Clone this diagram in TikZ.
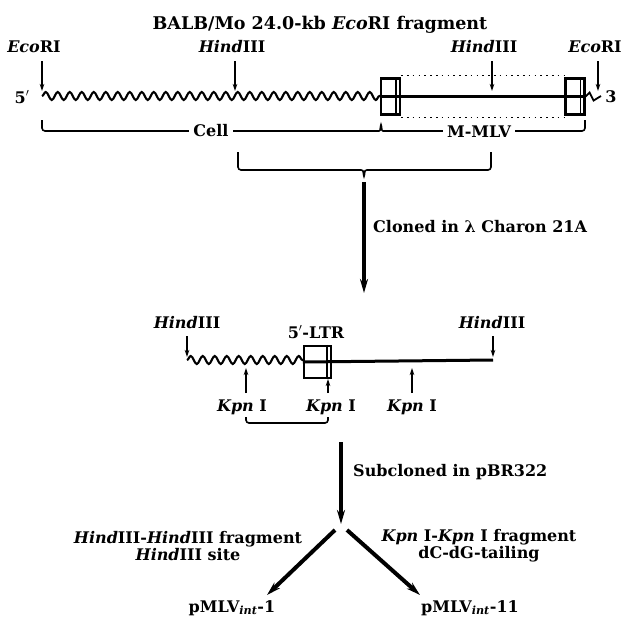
\documentclass[tikz,border=0pt]{standalone}
\usepackage{fontspec}
\setmainfont{DejaVu Serif}
\usetikzlibrary{arrows.meta,decorations.pathmorphing}
\begin{document}
\begin{tikzpicture}[x=1pt,y=-1pt,
  lbl/.style={font=\bfseries\fontsize{16}{16}\selectfont, inner sep=0pt},
  site/.style={line width=1.7pt, -{Stealth[length=7pt,width=4.5pt]}},
  proc/.style={line width=4pt, -{Stealth[length=14pt,width=8pt]}},
  wave/.style={line width=2.1pt, decorate, decoration={snake, amplitude=4pt, segment length=12pt}},
  dna/.style={line width=3pt},
  ltrbox/.style={draw, line width=2.2pt, inner sep=0pt},
  dots/.style={line width=1.6pt, dash pattern=on 1.6pt off 4.2pt},
  brk/.style={line width=1.6pt, rounded corners=3pt},
  gap/.style={fill=white, inner xsep=4pt, inner ysep=1pt},
]
\useasboundingbox (0,0) rectangle (631,621);

% ---------- top map ----------
\node[lbl, font=\bfseries\fontsize{17.5}{18}\selectfont] (title) at (320,25) {BALB/Mo 24.0-kb \textit{Eco}RI fragment};
\node[lbl] (ecoL) at (34,47) {\textit{Eco}RI};
\node[lbl] (hindL) at (232,47) {\textit{Hind}III};
\node[lbl] (hindR) at (484,47) {\textit{Hind}III};
\node[lbl] (ecoR) at (595,47) {\textit{Eco}RI};
\node[lbl] (five) at (22,97) {5$'$};
\node[lbl] (three) at (611,97) {3};

\coordinate (ecoLt) at (42,61);  \coordinate (ecoLh) at (42,91);
\coordinate (hindLt) at (235,61); \coordinate (hindLh) at (235,91);
\coordinate (hindRt) at (492,61); \coordinate (hindRh) at (492,91);
\coordinate (ecoRt) at (598,61); \coordinate (ecoRh) at (598,91);
\draw[site] (ecoLt) -- (ecoLh);
\draw[site] (hindLt) -- (hindLh);
\draw[site] (hindRt) -- (hindRh);
\draw[site] (ecoRt) -- (ecoRh);

\coordinate (w1a) at (42,96); \coordinate (w1b) at (381,96);
\draw[wave] (w1a) -- (w1b);
\node[ltrbox, minimum width=19pt, minimum height=36pt] (ltr1) at (390.5,96.5) {};
\node[ltrbox, minimum width=19pt, minimum height=36pt] (ltr2) at (575,96.5) {};
\draw[line width=1.6pt] ([xshift=-5pt]ltr1.north east) -- ([xshift=-5pt]ltr1.south east);
\draw[line width=1.6pt] ([xshift=-5pt]ltr2.north east) -- ([xshift=-5pt]ltr2.south east);
\draw[dna] (ltr1.west) -- (ltr2.east);
\draw[dots] ([yshift=2pt]ltr1.north east) -- ([yshift=2pt]ltr2.north west);
\draw[dots] ([yshift=-2pt]ltr1.south east) -- ([yshift=-2pt]ltr2.south west);
\coordinate (w2b) at (601,96);
\draw[line width=1.8pt] (ltr2.east) -- ++(4,-4) -- ++(4,8) -- (w2b);

% brackets
\draw[brk] (42,120) -- (42,131) -- (376,131) .. controls (380,131) .. (381,123)
  .. controls (382,131) .. (386,131) -- (585,131) -- (585,120);
\node[lbl, gap] (cell) at (211,131) {Cell};
\node[lbl, gap] (mmlv) at (479,132) {M-MLV};
\draw[brk] (238,152) -- (238,170) -- (358,170) .. controls (363,170) .. (364,178)
  .. controls (365,170) .. (370,170) -- (491,170) -- (491,152);
\coordinate (a1s) at (364,182); \coordinate (a1e) at (364,293);
\draw[proc] (a1s) -- (a1e);
\node[lbl, anchor=west] (cloned) at (373,227) {Cloned in λ Charon 21A};

% ---------- middle map ----------
\node[lbl] (hind2L) at (187,323) {\textit{Hind}III};
\node[lbl] (hind2R) at (492,323) {\textit{Hind}III};
\node[lbl] (ltrlbl) at (316,332) {5$'$-LTR};
\coordinate (h2Lt) at (187,336); \coordinate (h2Lh) at (187,357);
\coordinate (h2Rt) at (493,336); \coordinate (h2Rh) at (493,357);
\draw[site] (h2Lt) -- (h2Lh);
\draw[site] (h2Rt) -- (h2Rh);
\coordinate (w3a) at (187,360); \coordinate (w3b) at (304,360);
\draw[wave] (w3a) -- (w3b);
\node[ltrbox, minimum width=27pt, minimum height=32pt] (ltr3) at (317.5,362) {};
\draw[line width=1.6pt] ([xshift=-5pt]ltr3.north east) -- ([xshift=-5pt]ltr3.south east);
\coordinate (d3b) at (493,360);
\draw[dna] (ltr3.west) -- (d3b);

\coordinate (k1b) at (246,393); \coordinate (k1t) at (246,368);
\coordinate (k2b) at (328,393); \coordinate (k2t) at (328,379);
\coordinate (k3b) at (412,393); \coordinate (k3t) at (412,368);
\draw[site] (k1b) -- (k1t);
\draw[site] (k2b) -- (k2t);
\draw[site] (k3b) -- (k3t);
\node[lbl] (kpn1) at (242,407) {\textit{Kpn} I};
\node[lbl] (kpn2) at (331,407) {\textit{Kpn} I};
\node[lbl] (kpn3) at (412,407) {\textit{Kpn} I};
\draw[brk] (246,417) -- (246,423) -- (328,423) -- (328,417);

\coordinate (a2s) at (341,442); \coordinate (a2e) at (341,524);
\draw[proc] (a2s) -- (a2e);
\node[lbl, anchor=west] (subcl) at (353,472) {Subcloned in pBR322};

% ---------- branches ----------
\coordinate (bL) at (335,530); \coordinate (bR) at (347,530);
\node[lbl] (p1) at (232,608) {pMLV\textsubscript{\itshape int}-1};
\node[lbl] (p11) at (470,608) {pMLV\textsubscript{\itshape int}-11};
\coordinate (p1t) at (267,595); \coordinate (p11t) at (420,595);
\draw[proc] (bL) -- (p1t);
\draw[proc] (bR) -- (p11t);
\node[lbl, align=center] (hhfrag) at (188,546) {\textit{Hind}III-\textit{Hind}III fragment\\[1pt]\textit{Hind}III site};
\node[lbl, align=center] (kkfrag) at (479,546) {\textit{Kpn} I-\textit{Kpn} I fragment\\[1pt]dC-dG-tailing};
\end{tikzpicture}
\end{document}
